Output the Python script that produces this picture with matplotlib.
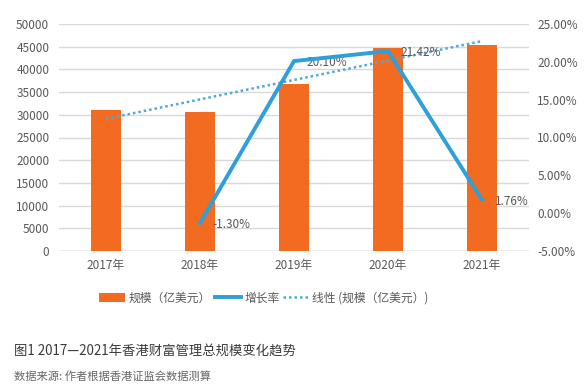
import numpy as np
import matplotlib
matplotlib.use("Agg")
from matplotlib import pyplot as plt

plt.rcParams['font.family'] = ['Noto Sans CJK SC', 'DejaVu Sans']

# data
years = ['2017年', '2018年', '2019年', '2020年', '2021年']
scale = [31000, 30600, 36750, 44620, 45400]       # 规模（亿美元）
growth = [None, -1.30, 20.10, 21.42, 1.76]          # 增长率 %
growth_labels = ['', '-1.30%', '20.10%', '21.42%', '1.76%']

orange = '#f26b21'
blue = '#2e9fd8'
txt = '#595959'

fig = plt.figure(figsize=(5.88, 3.87), dpi=100)
ax = fig.add_axes([59/588, 1-251/387, 470/588, 227/387])
ax2 = ax.twinx()

x = np.arange(len(years))
ax.bar(x, scale, width=0.31, color=orange, zorder=2, label='规模（亿美元）')

# linear trend of the bars
k, b = np.polyfit(x, scale, 1)
trend, = ax.plot(x, k*x + b, color='#4fa8dc', lw=1.8, ls=(0, (1, 1.2)), zorder=3,
                 label='线性 (规模（亿美元）)')

gx = [i for i, g in enumerate(growth) if g is not None]
gy = [g for g in growth if g is not None]
ax2.plot(gx, gy, color=blue, lw=2.8, zorder=4, label='增长率', solid_joinstyle='miter')
for i in gx:
    ax2.annotate(growth_labels[i], (i, growth[i]), xytext=(9, -1), textcoords='offset points',
                 ha='left', va='center', fontsize=8.5, color=txt)

ax.set_xlim(-0.5, 4.5)
ax.set_ylim(0, 50000)
ax.set_yticks(np.arange(0, 50001, 5000))
ax2.set_ylim(-5, 25)
ax2.set_yticks(np.arange(-5, 25.1, 5))
ax2.set_yticklabels([f'{v:.2f}%' for v in np.arange(-5, 25.1, 5)])
ax.set_xticks(x)
ax.set_xticklabels(years)

ax.grid(axis='y', color='#d9d9d9', lw=1, zorder=0)
ax.set_axisbelow(True)
for a in (ax, ax2):
    for s in ['top', 'left', 'right']:
        a.spines[s].set_visible(False)
    a.spines['bottom'].set_visible(False)
    a.tick_params(length=0, labelsize=8.5, colors=txt)
ax.axhline(0, color='#bfbfbf', lw=1, zorder=1)
ax.tick_params(axis='y', pad=7)
ax.tick_params(axis='x', pad=6)
ax2.tick_params(axis='y', pad=6)

h1, l1 = ax.get_legend_handles_labels()
h2, l2 = ax2.get_legend_handles_labels()
bars_h = [h for h, l in zip(h1, l1) if l == '规模（亿美元）'][0]
fig.legend([bars_h, h2[0], trend], ['规模（亿美元）', '增长率', '线性 (规模（亿美元）)'],
           loc='center', bbox_to_anchor=(264/588, 1-298/387), ncol=3, frameon=False,
           fontsize=8.5, labelcolor=txt, handlelength=2.2, columnspacing=0.3,
           handletextpad=0.3)

fig.text(14/588, 1-352/387, '图1 2017—2021年香港财富管理总规模变化趋势',
         fontsize=9.6, color='#3a3a3a', va='center')
fig.text(14/588, 1-377/387, '数据来源: 作者根据香港证监会数据测算',
         fontsize=8.1, color='#666666', va='center')

fig.savefig('out.png', dpi=100, facecolor='white')
